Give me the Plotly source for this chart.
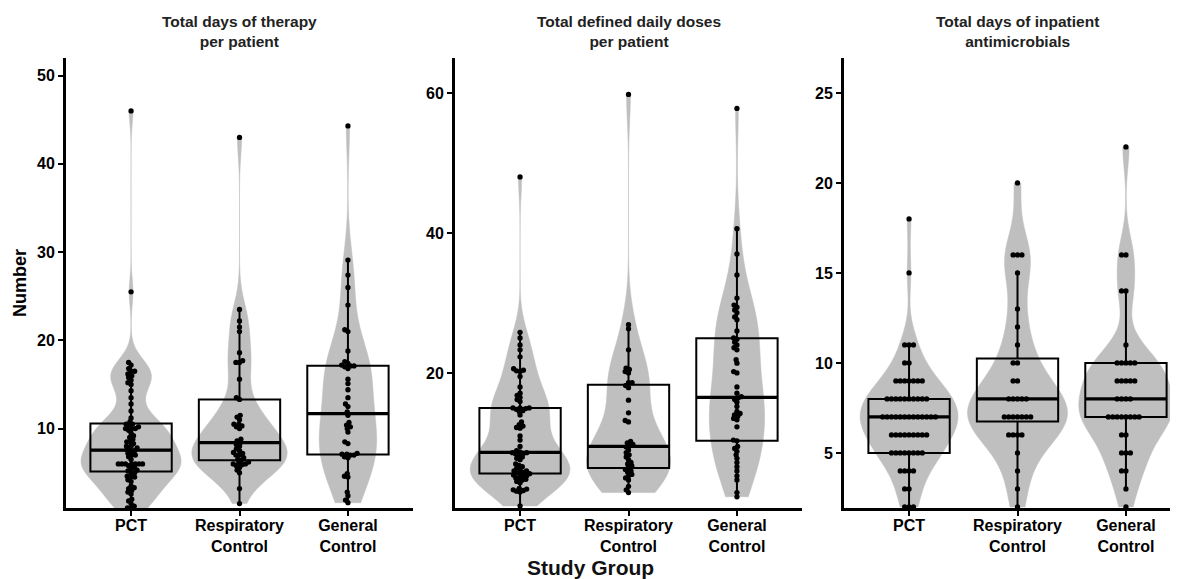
import numpy as np
import plotly.graph_objects as go

# ---------------- data ----------------
groups = ["PCT", "Respiratory<br>Control", "General<br>Control"]
panel_titles = ["Total days of therapy<br>per patient",
                "Total defined daily doses<br>per patient",
                "Total days of inpatient<br>antimicrobials"]

dot_pct = [1.0, 1.0, 1.2, 1.5, 1.8, 2.0, 2.6, 2.8, 3.0, 3.2, 3.3, 3.5,
           4.0, 4.2, 4.5, 4.5, 4.6, 5.0, 5.0, 5.2, 5.3, 5.5, 5.6, 5.8,
           6.0, 6.0, 6.0, 6.0, 6.0, 6.0, 6.0, 6.5, 6.8, 7.0, 7.0, 7.2, 7.5, 7.5, 7.6,
           7.8, 8.0, 8.0, 8.3, 8.5, 8.5, 8.8, 9.0, 9.2, 9.5,
           9.8, 10.0, 10.0, 10.0, 10.2, 10.3, 10.5, 10.5, 10.8,
           11.2, 12.0, 12.8, 13.5, 14.3,
           15.0, 15.2, 15.5, 15.8, 16.0, 16.2, 16.5, 16.5, 16.8, 17.2, 17.5,
           25.5, 46.0]
dot_resp = [1.5, 3.2, 5.0, 5.3, 5.6, 5.8, 5.9, 6.0, 6.0, 6.1, 6.2, 6.4,
            6.5, 6.7, 7.0, 7.0, 7.2, 7.3, 7.5, 7.7, 8.0, 8.2, 8.4,
            8.6, 8.8, 10.0, 10.2, 10.3, 10.5, 10.5, 11.0, 11.3, 11.5, 13.3,
            13.5, 15.6, 17.5, 17.5, 17.7, 18.6, 21.0, 21.5, 22.2, 23.5, 43.0]
dot_gen = [1.6, 1.9, 2.4, 2.8, 4.5, 4.6, 4.9, 6.7, 6.8, 7.0, 7.0, 7.1,
           7.1, 7.2, 8.3, 8.5, 9.6, 10.0, 10.2, 10.4, 10.7, 11.5, 11.9,
           12.5, 12.8, 13.5, 14.4, 15.1, 15.6, 16.8, 17.0, 17.1, 17.1,
           17.2, 17.4, 17.6, 18.8, 21.0, 21.2, 24.0, 26.0, 27.4, 29.1, 44.3]

ddd_pct = [1.0, 3.0, 3.1, 3.2, 3.3, 3.4, 3.5, 4.3, 4.5, 4.7, 4.8, 5.0, 5.0, 5.2, 5.3, 5.4, 5.5, 5.6,
           5.7, 5.8, 6.0, 6.0, 6.2, 6.4, 6.6, 6.8, 7.0, 7.6, 7.8, 8.0, 8.2, 8.4, 8.5, 8.6, 8.6,
           8.7, 8.9, 9.5, 10.4, 11.0, 12.1, 12.2, 12.4, 12.6, 13.0, 14.0, 14.5, 14.6, 14.8, 14.9, 15.0, 15.0,
           15.0, 15.9, 16.2, 16.5, 16.8, 17.1, 18.0, 19.5, 20.2, 20.3, 20.4, 20.6, 22.3, 23.3, 24.0, 25.0, 25.8,
           48.0]
ddd_resp = [2.9, 3.3, 3.8, 4.7, 5.0, 5.3, 5.5, 5.8, 6.0, 6.2,
            6.5, 6.7, 7.0, 7.2, 7.6, 8.0, 8.3, 8.6, 9.0, 9.4, 9.6,
            9.8, 10.0, 10.2, 13.0, 13.2, 14.3, 16.1, 17.9, 18.2, 18.6,
            18.6, 20.0, 20.2, 20.5, 20.7, 23.3, 26.3, 26.9, 59.8]
ddd_gen = [2.3, 2.9, 4.7, 5.3, 6.0, 6.6, 7.2, 7.8, 8.3, 8.8, 9.2, 9.5, 10.3,
           10.4, 12.3, 13.3, 13.5, 13.8, 14.0, 14.2, 14.5, 15.2, 15.8, 16.2, 16.4, 16.6,
           17.1, 18.0, 20.0, 20.2, 21.4, 21.9, 23.3, 23.6, 24.0, 24.4, 24.8, 25.0,
           26.0, 27.6, 28.0, 28.6, 29.0, 29.4, 29.7, 30.7, 34.0, 37.0, 40.6, 57.8]

inp_pct = [2, 2, 2, 3, 3, 4, 4, 4, 4, 5, 5, 5, 5, 5, 5, 5, 5,
           6, 6, 6, 6, 6, 6, 6, 6, 6, 7, 7, 7, 7, 7, 7, 7, 7, 7, 7, 7, 7, 7,
           8, 8, 8, 8, 8, 8, 8, 8, 8, 8, 9, 9, 9, 9, 9, 9, 9,
           10, 10, 11, 11, 11, 15, 18]
inp_resp = [2, 3, 4, 5, 6, 6, 6, 6, 7, 7, 7, 7, 7, 7, 7, 8, 8, 8, 8, 8,
            9, 9, 10, 10, 11, 12, 13, 15, 16, 16, 16, 20]
inp_gen = [2, 3, 4, 4, 5, 5, 5, 6, 6, 7, 7, 7, 7, 7, 7, 7, 7, 8, 8, 8, 8,
           9, 9, 9, 9, 9, 10, 10, 10, 10, 10, 11, 14, 14, 16, 16, 22]

panels = [[dot_pct, dot_resp, dot_gen],
          [ddd_pct, ddd_resp, ddd_gen],
          [inp_pct, inp_resp, inp_gen]]

y_ranges = [[1.0, 52.0], [0.7, 65.0], [1.94, 26.94]]
y_dticks = [10, 20, 5]
violin_widths = [[0.92, 0.88, 0.53], [0.92, 0.77, 0.51], [0.90, 0.92, 0.87]]
bw_adjust = [1.0, 1.0, 1.2]
dot_spacing = [3.6, 3.6, 4.4]

# ---------------- style / layout ----------------
OFF = 8                           # page body margin in the browser
W, H = 1178 - OFF, 579 - OFF
ppx = 108.44                      # pixels per x unit
plot_top, plot_bot = 58 - OFF, 508 - OFF
x_left = [66 - OFF, 455 - OFF, 844 - OFF]
x_right = [413 - OFF, 802 - OFF, 1178 - OFF]
positions = [1, 2, 3]
VIOLIN = "#bfbfbf"
BOXW = 0.75
FONT = "Liberation Sans, Arial, sans-serif"


def nrd0(v):
    v = np.asarray(v, float)
    sd = v.std(ddof=1)
    iqr = np.subtract(*np.percentile(v, [75, 25]))
    lo = min(sd, iqr / 1.34) if iqr > 0 else sd
    return 0.9 * lo * len(v) ** -0.2


def swarm(vals, ppu_y, d):
    vals = np.asarray(vals, float)
    order = np.argsort(vals, kind="stable")
    placed = []
    offs = np.zeros(len(vals))
    for i in order:
        y = vals[i] * ppu_y
        forb = []
        for xp, yp in placed:
            dy = abs(y - yp)
            if dy < d:
                dx = np.sqrt(d * d - dy * dy)
                forb.append((xp - dx, xp + dx))
        cands = [0.0] + [a for a, b in forb] + [b for a, b in forb]
        cands.sort(key=lambda c: (abs(c), c))
        xsel = 0.0
        for c in cands:
            if all(not (a + 1e-6 < c < b - 1e-6) for a, b in forb):
                xsel = c
                break
        placed.append((xsel, y))
        offs[i] = xsel / ppx
    return offs


fig = go.Figure()
ydom = [1 - plot_bot / H, 1 - plot_top / H]

for p in range(3):
    xa = "x" if p == 0 else f"x{p+1}"
    ya = "y" if p == 0 else f"y{p+1}"
    ppu_y = (plot_bot - plot_top) / (y_ranges[p][1] - y_ranges[p][0])
    for g in range(3):
        vals = np.asarray(panels[p][g], float)
        pos = positions[g]
        fig.add_trace(go.Violin(
            y=vals, x0=pos, xaxis=xa, yaxis=ya,
            width=violin_widths[p][g], scalemode="width",
            spanmode="hard", bandwidth=nrd0(vals) * bw_adjust[p],
            fillcolor=VIOLIN, line=dict(color=VIOLIN, width=0.5),
            points=False, box_visible=False, meanline_visible=False,
            hoverinfo="skip", showlegend=False, opacity=1))
        q1, med, q3 = np.percentile(vals, [25, 50, 75])
        iqr = q3 - q1
        lf = vals[vals >= q1 - 1.5 * iqr].min()
        uf = vals[vals <= q3 + 1.5 * iqr].max()
        fig.add_trace(go.Box(
            x=[pos], q1=[q1], median=[med], q3=[q3],
            lowerfence=[lf], upperfence=[uf],
            xaxis=xa, yaxis=ya, width=BOXW, whiskerwidth=0,
            fillcolor="rgba(0,0,0,0)", line=dict(color="black", width=2),
            boxpoints=False, hoverinfo="skip", showlegend=False))
        fig.add_trace(go.Scatter(
            x=[pos - BOXW / 2, pos + BOXW / 2], y=[med, med],
            mode="lines", line=dict(color="black", width=3.2),
            xaxis=xa, yaxis=ya, hoverinfo="skip", showlegend=False))
        offs = swarm(vals, ppu_y, dot_spacing[p])
        fig.add_trace(go.Scatter(
            x=pos + offs, y=vals, mode="markers",
            marker=dict(color="black", size=5.3, line=dict(width=0)),
            xaxis=xa, yaxis=ya, hoverinfo="skip", showlegend=False))

axis_common = dict(showline=True, linecolor="black", linewidth=3,
                   ticks="outside", ticklen=5, tickwidth=2, tickcolor="black",
                   showgrid=False, zeroline=False, automargin=False,
                   tickfont=dict(family=FONT, size=16, color="black"))

for p in range(3):
    xn = "xaxis" if p == 0 else f"xaxis{p+1}"
    yn = "yaxis" if p == 0 else f"yaxis{p+1}"
    xl, xr = x_left[p], x_right[p]
    xmax = 0.4 + (xr - xl) / ppx
    fig.layout[xn] = dict(domain=[xl / W, xr / W], range=[0.4, xmax],
                          anchor="y" if p == 0 else f"y{p+1}",
                          tickmode="array", tickvals=positions,
                          ticktext=[f"<b>{t}</b>" for t in groups],
                          ticklabelstandoff=-4,
                          **axis_common)
    fig.layout[yn] = dict(domain=ydom, range=y_ranges[p],
                          anchor="x" if p == 0 else f"x{p+1}",
                          dtick=y_dticks[p], tick0=0,
                          tickprefix="<b>", ticksuffix="</b>",
                          **axis_common)
    cx = (xl + xl + 3.2 * ppx) / 2
    fig.add_annotation(text=f"<b>{panel_titles[p]}</b>", x=cx / W, y=1 - (32 - OFF) / H,
                       xref="paper", yref="paper", showarrow=False,
                       xanchor="center", yanchor="middle",
                       font=dict(family=FONT, size=15.5, color="#222222"))

fig.add_annotation(text="<b>Number</b>", x=(20 - OFF) / W, y=1 - (283 - OFF) / H,
                   xref="paper", yref="paper",
                   showarrow=False, textangle=-90, xanchor="center", yanchor="middle",
                   font=dict(family=FONT, size=18, color="black"))
fig.add_annotation(text="<b>Study Group</b>", x=(590 - OFF) / W, y=1 - (567 - OFF) / H,
                   xref="paper", yref="paper",
                   showarrow=False, xanchor="center", yanchor="middle",
                   font=dict(family=FONT, size=21, color="#111111"))

fig.update_layout(width=W, height=H, margin=dict(l=0, r=0, t=0, b=0),
                  paper_bgcolor="white", plot_bgcolor="white",
                  template="none", violinmode="overlay", boxmode="overlay",
                  font=dict(family=FONT))

fig.write_html("out.html")
